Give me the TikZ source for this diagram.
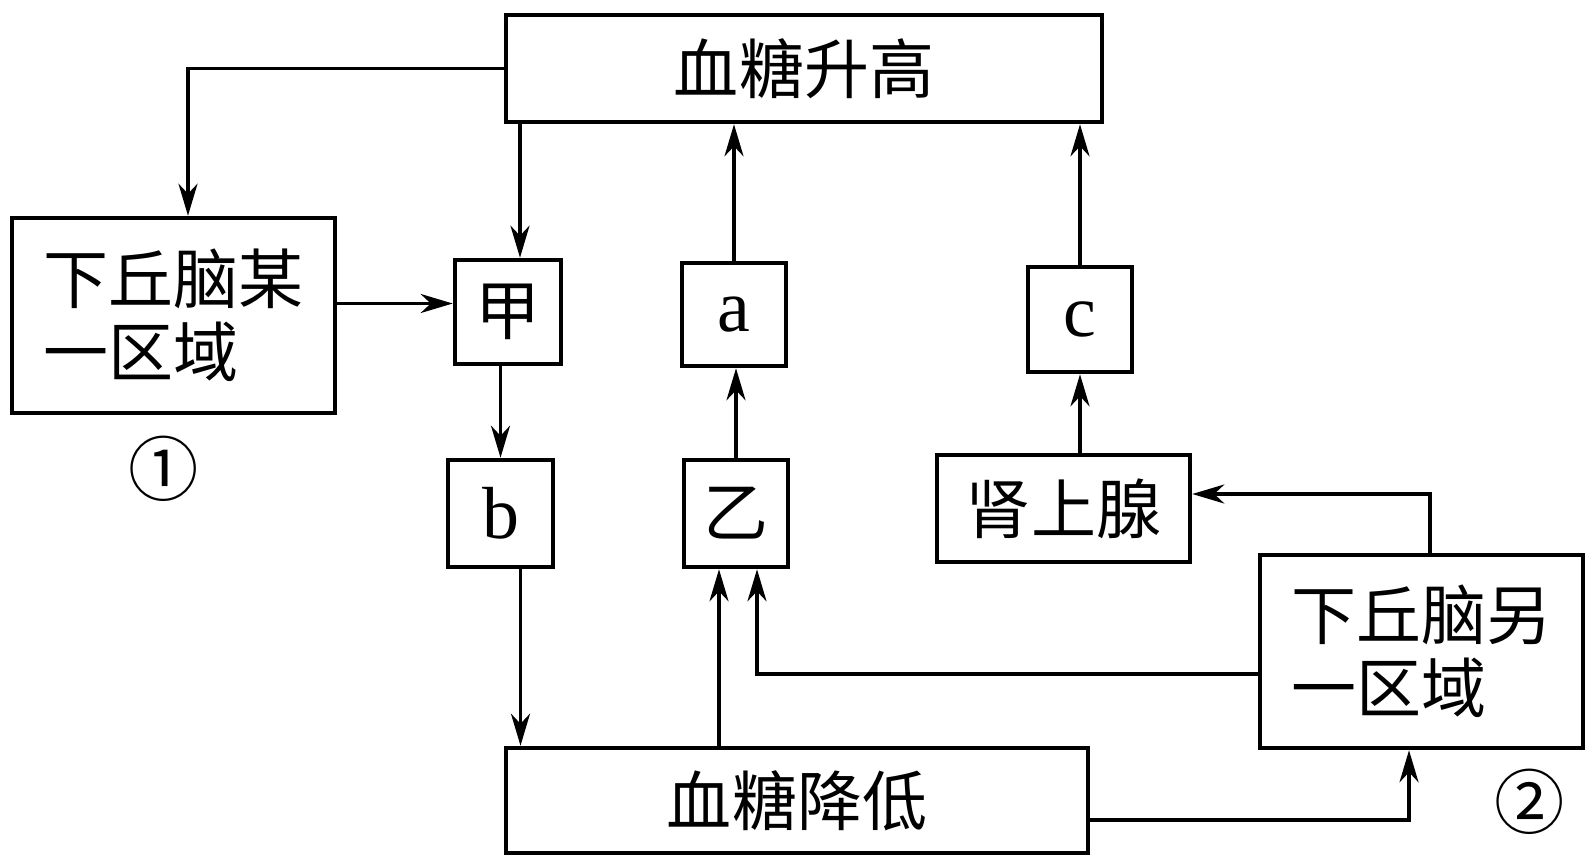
\documentclass[tikz,border=0pt]{standalone}
\usepackage{fontspec}
\setmainfont{Liberation Serif}
\newfontfamily\cjk{Noto Sans CJK SC}
\usetikzlibrary{arrows.meta,positioning}

\begin{document}
\begin{tikzpicture}[x=0.02cm, y=-0.02cm,
    blk/.style={rectangle, draw, line width=2.6pt, inner sep=0pt, font=\cjk\fontsize{37}{42}\selectfont},
    arr/.style={-{Stealth[length=0.64cm, width=0.38cm, inset=0.2cm]}, line width=2pt}]
        \useasboundingbox (0,0) rectangle (1596,868);
        % Nodes
        \node (rise) [blk, minimum width=11.92cm, minimum height=2.14cm] at (804, 68.5) {血糖升高};
        \node (hyp1) [blk, minimum width=6.46cm, minimum height=3.9cm, align=left, font=\cjk\fontsize{37}{41.5}\selectfont] at (173.5, 315.5) {下丘脑某\\一区域};
        \node (jia) [blk, minimum width=2.12cm, minimum height=2.08cm] at (508, 312) {甲};
        \node (b) [blk, minimum width=2.1cm, minimum height=2.14cm, font=\fontsize{42}{46}\selectfont] at (500.5, 513.5) {b};
        \node (a) [blk, minimum width=2.08cm, minimum height=2.06cm, font=\fontsize{42}{46}\selectfont] at (734, 314.5) {a};
        \node (yi) [blk, minimum width=2.08cm, minimum height=2.14cm] at (736, 513.5) {乙};
        \node (c) [blk, minimum width=2.08cm, minimum height=2.1cm, font=\fontsize{42}{46}\selectfont] at (1080, 319.5) {c};
        \node (adrenal) [blk, minimum width=5.06cm, minimum height=2.14cm] at (1063.5, 508.5) {肾上腺};
        \node (hyp2) [blk, minimum width=6.46cm, minimum height=3.86cm, align=left, font=\cjk\fontsize{37}{41.5}\selectfont] at (1421.5, 651.5) {下丘脑另\\一区域};
        \node (fall) [blk, minimum width=11.64cm, minimum height=2.1cm] at (797, 800.5) {血糖降低};
        \node (one) [font=\cjk\fontsize{40}{44}\selectfont] at (163.5, 468.5) {①};
        \node (two) [font=\cjk\fontsize{40}{44}\selectfont] at (1530, 801.5) {②};
        % Arrow
        \draw[arr] (rise.west) -| ([xshift=0.29cm]hyp1.north);
        \draw[arr] ([yshift=0.24cm]hyp1.east) -- ([yshift=0.24cm]hyp1.east -| jia.west);
        \draw[arr] ([xshift=0.24cm]jia.north |- rise.south) -- ([xshift=0.24cm]jia.north);
        \draw[arr] (b.north |- jia.south) -- (b.north);
        \draw[arr] ([xshift=0.4cm]b.south) -- ([xshift=0.4cm]b.south |- fall.north);
        \draw[arr] (a.north) -- (a.north |- rise.south);
        \draw[arr] (yi.north) -- (yi.north |- a.south);
        \draw[arr] ([xshift=-0.34cm]yi.south |- fall.north) -- ([xshift=-0.34cm]yi.south);
        \draw[arr] ([yshift=-0.45cm]hyp2.west) -| ([xshift=0.42cm]yi.south);
        \draw[arr] (c.north) -- (c.north |- rise.south);
        \draw[arr] (c.south |- adrenal.north) -- (c.south);
        \draw[arr] ([xshift=0.17cm]hyp2.north) |- ([yshift=0.29cm]adrenal.east);
        \draw[arr] ([yshift=-0.39cm]fall.east) -| ([xshift=-0.25cm]hyp2.south);
\end{tikzpicture}
\end{document}
